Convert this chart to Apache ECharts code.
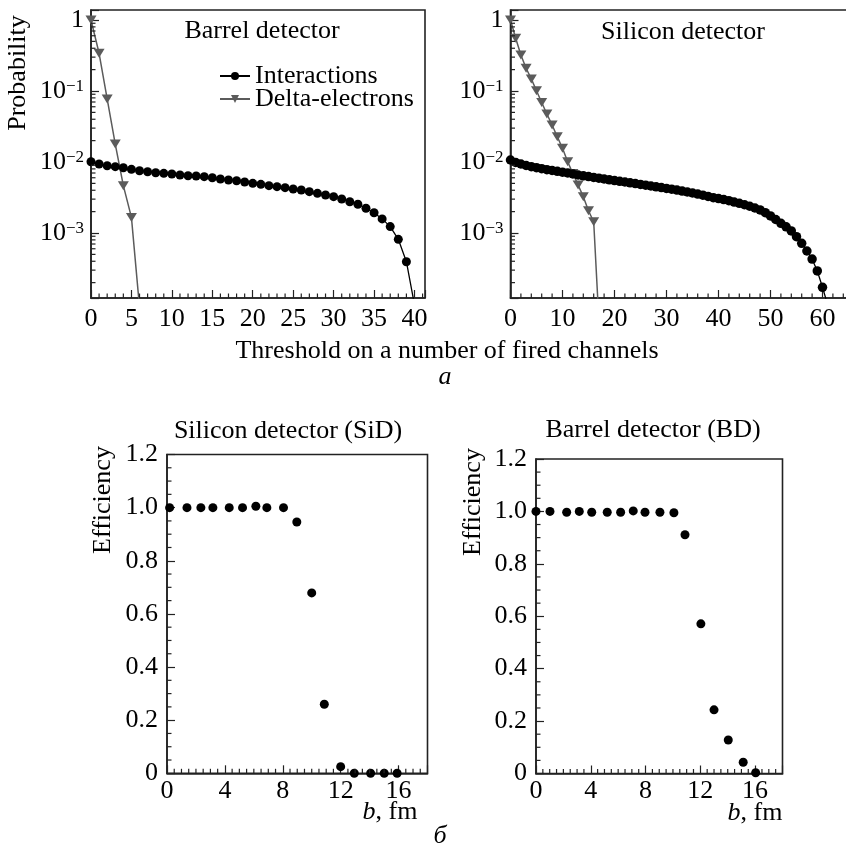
<!DOCTYPE html>
<html><head><meta charset="utf-8">
<script src="https://cdn.jsdelivr.net/npm/echarts@6/dist/echarts.min.js"></script>
<style>html,body{margin:0;padding:0;background:#fff}#c{width:846px;height:849px}</style>
</head><body><div id="c"></div>
<script>
const FONT = 'Liberation Serif';
const FS = 26;

// ---- Panel a: threshold scans ----
const barrelThreshold = Array.from({length: 41}, (_, i) => i);
const barrelInteractions = [0.0101, 0.00937, 0.00887, 0.00859, 0.00831, 0.00789, 0.00754, 0.0073, 0.00707, 0.00693,
  0.00678, 0.00656, 0.00641, 0.00635, 0.00621, 0.00601, 0.00576, 0.00558, 0.00545, 0.00523,
  0.00501, 0.00485, 0.00464, 0.00449, 0.00435, 0.00417, 0.00403, 0.00382, 0.00362, 0.00343,
  0.00325, 0.00301, 0.00276, 0.00254, 0.00223, 0.00193, 0.00158, 0.00123, 0.000815, 0.000394, 0.0000975];
const barrelDeltaThreshold = [0, 1, 2, 3, 4, 5, 6];
const barrelDelta = [1.0, 0.34, 0.0772, 0.0179, 0.00464, 0.00166, 0.00009];

const siliconThreshold = Array.from({length: 62}, (_, i) => i);
const siliconInteractions = [0.01067, 0.00984, 0.00937, 0.00893, 0.00859, 0.00831, 0.00804, 0.00779, 0.00759, 0.0074,
  0.00718, 0.007, 0.00678, 0.00656, 0.00639, 0.00623, 0.00607, 0.00591, 0.00576, 0.00562,
  0.00547, 0.00535, 0.00523, 0.00509, 0.00496, 0.00484, 0.00471, 0.00459, 0.00447, 0.00436,
  0.00425, 0.00414, 0.00403, 0.0039, 0.00378, 0.00366, 0.00354, 0.00341, 0.00328, 0.00314,
  0.00306, 0.00296, 0.00285, 0.00273, 0.00262, 0.0025, 0.00238, 0.00225, 0.00211, 0.00193,
  0.00174, 0.00155, 0.00137, 0.00122, 0.00107, 0.000887, 0.000716, 0.000558, 0.00043, 0.000292,
  0.000172, 0.0000968];
const siliconDeltaThreshold = Array.from({length: 18}, (_, i) => i);
const siliconDelta = [1.0, 0.552, 0.321, 0.209, 0.148, 0.101, 0.069, 0.0474, 0.0332, 0.0227,
  0.0156, 0.0101, 0.0069, 0.00474, 0.00325, 0.00206, 0.00144, 0.000058];

const probMin = 1.215e-4, probMax = 1.383;

// ---- Panel б: efficiency vs impact parameter ----
const sidB = [0.18, 1.38, 2.34, 3.17, 4.3, 5.22, 6.14, 6.9, 8.05, 8.97, 10.0, 10.87, 12.0, 12.94, 14.07, 15.01, 15.9];
const sidEff = [1.0, 1.0, 1.0, 1.0, 1.0, 1.0, 1.005, 1.0, 1.0, 0.946, 0.679, 0.26, 0.025, 0.0, 0.0, 0.0, 0.0];
const bdB = [0, 1.02, 2.24, 3.16, 4.07, 5.2, 6.18, 7.1, 7.96, 9.05, 10.07, 10.88, 12.04, 13.0, 14.04, 15.13, 16.04];
const bdEff = [1.0, 1.0, 0.997, 1.0, 0.997, 0.997, 0.997, 1.002, 0.997, 0.997, 0.995, 0.911, 0.571, 0.243, 0.128, 0.043, 0.003];

const legendNames = ['Interactions', 'Delta-electrons'];

const zip = (a, b) => a.map((v, i) => [v, b[i]]);

// minor tick positions
const logMinor = [];
for (let n = -4; n <= -1; n++) for (let k = 2; k <= 9; k++) logMinor.push(k * Math.pow(10, n));
const range = (a, b, s) => { const r = []; for (let v = a; v <= b + 1e-9; v += s) r.push(Math.round(v * 1000) / 1000); return r; };
const tlxMinor = range(1, 41, 1).filter(v => v % 5 !== 0);
const trxMinor = range(2, 64, 2).filter(v => v % 10 !== 0);
const botxMinor = range(0.5, 17.5, 0.5).filter(v => Math.abs(v / 4 - Math.round(v / 4)) > 1e-6);
const botyMinor = range(0.05, 1.15, 0.05).filter(v => Math.abs(v / 0.2 - Math.round(v / 0.2)) > 1e-6);

const FRAME = '#222';
const GREY = '#5b5b5b';

function tickSeries(idx, pts, dir, len) {
  return {
    type: 'custom', xAxisIndex: idx, yAxisIndex: idx, silent: true, z: 6, clip: false, animation: false,
    data: pts,
    renderItem: function (params, api) {
      const p = api.coord([api.value(0), api.value(1)]);
      const s = dir === 'x' ? {x1: p[0], y1: p[1], x2: p[0], y2: p[1] - len}
                            : {x1: p[0], y1: p[1], x2: p[0] + len, y2: p[1]};
      return {type: 'line', shape: s, style: {stroke: FRAME, lineWidth: 1.2}};
    }
  };
}

const baseAxis = {
  axisLine: {show: true, lineStyle: {color: FRAME, width: 1.6}},
  axisTick: {show: true, inside: true, length: 8, lineStyle: {color: FRAME, width: 1.2}},
  splitLine: {show: false},
  minorTick: {show: false}
};
const lab = (extra) => Object.assign({color: '#000', fontFamily: FONT, fontSize: FS}, extra);

function logYAxis(idx) {
  return Object.assign({}, baseAxis, {
    type: 'log', logBase: 10, gridIndex: idx, min: probMin, max: probMax,
    axisLabel: lab({
      margin: 7,
      formatter: function (v) {
        const l = Math.log10(v), e = Math.round(l);
        if (Math.abs(l - e) > 1e-6) return '';
        if (e === 0) return '1';
        return '10{s|\u2212' + (-e) + '}';
      },
      rich: {s: {fontSize: 17, fontFamily: FONT, color: '#000', verticalAlign: 'top', lineHeight: 17}}
    })
  });
}

const gridBase = {show: true, borderColor: FRAME, borderWidth: 1.6, backgroundColor: 'transparent', containLabel: false, outerBoundsMode: 'none'};

const option = {
  animation: false,
  backgroundColor: '#fff',
  grid: [
    Object.assign({left: 91, top: 10, width: 334, height: 288}, gridBase),
    Object.assign({left: 510.5, top: 10, width: 338, height: 288}, gridBase),
    Object.assign({left: 167, top: 454.5, width: 260.5, height: 318.8}, gridBase),
    Object.assign({left: 536, top: 459, width: 246.5, height: 314.5}, gridBase)
  ],
  xAxis: [
    Object.assign({}, baseAxis, {type: 'value', gridIndex: 0, min: 0, max: 41.3, interval: 5,
      axisLabel: lab({margin: 8, formatter: v => (v % 5 === 0 && v <= 40) ? String(v) : ''})}),
    Object.assign({}, baseAxis, {type: 'value', gridIndex: 1, min: 0, max: 65, interval: 10,
      axisLabel: lab({margin: 8, formatter: v => (v % 10 === 0 && v <= 60) ? String(v) : ''})}),
    Object.assign({}, baseAxis, {type: 'value', gridIndex: 2, min: 0, max: 18, interval: 4,
      axisLabel: lab({margin: 5, formatter: v => (v % 4 === 0 && v <= 16) ? String(v) : ''})}),
    Object.assign({}, baseAxis, {type: 'value', gridIndex: 3, min: 0, max: 18, interval: 4,
      axisLabel: lab({margin: 5, formatter: v => (v % 4 === 0 && v <= 16) ? String(v) : ''})})
  ],
  yAxis: [
    logYAxis(0),
    logYAxis(1),
    Object.assign({}, baseAxis, {type: 'value', gridIndex: 2, min: 0, max: 1.2, interval: 0.2,
      axisLabel: lab({margin: 9, formatter: v => v === 0 ? '0' : v.toFixed(1)})}),
    Object.assign({}, baseAxis, {type: 'value', gridIndex: 3, min: 0, max: 1.2, interval: 0.2,
      axisLabel: lab({margin: 9, formatter: v => v === 0 ? '0' : v.toFixed(1)})})
  ],
  legend: {
    data: legendNames, left: 219, top: 63, orient: 'vertical', itemWidth: 30, itemHeight: 10, itemGap: -3,
    padding: 0, selectedMode: false,
    textStyle: {fontFamily: FONT, fontSize: FS, color: '#000'}
  },
  series: [
    {name: 'Interactions', type: 'line', xAxisIndex: 0, yAxisIndex: 0, data: zip(barrelThreshold, barrelInteractions),
      symbol: 'circle', symbolSize: 9, showAllSymbol: true, clip: true, z: 3,
      itemStyle: {color: '#000', opacity: 1}, lineStyle: {color: '#000', width: 1.3}},
    {name: 'Delta-electrons', type: 'line', xAxisIndex: 0, yAxisIndex: 0, data: zip(barrelDeltaThreshold, barrelDelta),
      symbol: 'triangle', symbolRotate: 180, symbolSize: [11, 9], showAllSymbol: true, clip: true, z: 2,
      itemStyle: {color: GREY, opacity: 1}, lineStyle: {color: GREY, width: 1.5}},
    {name: 'Interactions', type: 'line', xAxisIndex: 1, yAxisIndex: 1, data: zip(siliconThreshold, siliconInteractions),
      symbol: 'circle', symbolSize: 9.5, showAllSymbol: true, clip: true, z: 3,
      itemStyle: {color: '#000', opacity: 1}, lineStyle: {color: '#000', width: 1.3}},
    {name: 'Delta-electrons', type: 'line', xAxisIndex: 1, yAxisIndex: 1, data: zip(siliconDeltaThreshold, siliconDelta),
      symbol: 'triangle', symbolRotate: 180, symbolSize: [11, 9], showAllSymbol: true, clip: true, z: 2,
      itemStyle: {color: GREY, opacity: 1}, lineStyle: {color: GREY, width: 1.5}},
    {type: 'scatter', xAxisIndex: 2, yAxisIndex: 2, data: zip(sidB, sidEff), symbol: 'circle', symbolSize: 9,
      clip: false, itemStyle: {color: '#000', opacity: 1}, z: 4},
    {type: 'scatter', xAxisIndex: 3, yAxisIndex: 3, data: zip(bdB, bdEff), symbol: 'circle', symbolSize: 9,
      clip: false, itemStyle: {color: '#000', opacity: 1}, z: 4},
    tickSeries(0, tlxMinor.map(v => [v, probMin]), 'x', 4.5),
    tickSeries(0, logMinor.map(v => [0, v]), 'y', 4.5),
    tickSeries(1, trxMinor.map(v => [v, probMin]), 'x', 4.5),
    tickSeries(1, logMinor.map(v => [0, v]), 'y', 4.5),
    tickSeries(2, botxMinor.map(v => [v, 0]), 'x', 4.5),
    tickSeries(2, botyMinor.map(v => [0, v]), 'y', 4.5),
    tickSeries(3, botxMinor.map(v => [v, 0]), 'x', 4.5),
    tickSeries(3, botyMinor.map(v => [0, v]), 'y', 4.5)
  ],
  graphic: (function () {
    const t = (text, x, y, opts) => Object.assign({type: 'text', x: x, y: y, silent: true,
      style: Object.assign({text: text, fontFamily: FONT, fontSize: FS, fill: '#000', align: 'center', verticalAlign: 'middle'}, (opts && opts.style) || {})},
      (opts && opts.rotation) ? {rotation: opts.rotation} : {});
    return [
      t('Barrel detector', 262, 31),
      t('Silicon detector', 683, 32),
      t('Probability', 18, 73, {rotation: Math.PI / 2}),
      t('Threshold on a number of fired channels', 447, 351),
      t('a', 445, 377, {style: {fontStyle: 'italic'}}),
      t('Silicon detector (SiD)', 288, 431),
      t('Barrel detector (BD)', 653, 430),
      t('Efficiency', 103, 500, {rotation: Math.PI / 2}),
      t('Efficiency', 473, 502, {rotation: Math.PI / 2}),
      t('{i|b}, fm', 390, 812, {style: {rich: {i: {fontStyle: 'italic', fontFamily: FONT, fontSize: FS}}}}),
      t('{i|b}, fm', 755, 813, {style: {rich: {i: {fontStyle: 'italic', fontFamily: FONT, fontSize: FS}}}}),
      t('\u0431', 440, 836, {style: {fontStyle: 'italic'}})
    ];
  })()
};

const chart = echarts.init(document.getElementById('c'), null, {renderer: 'canvas'});
chart.setOption(option);
</script>
</body></html>
